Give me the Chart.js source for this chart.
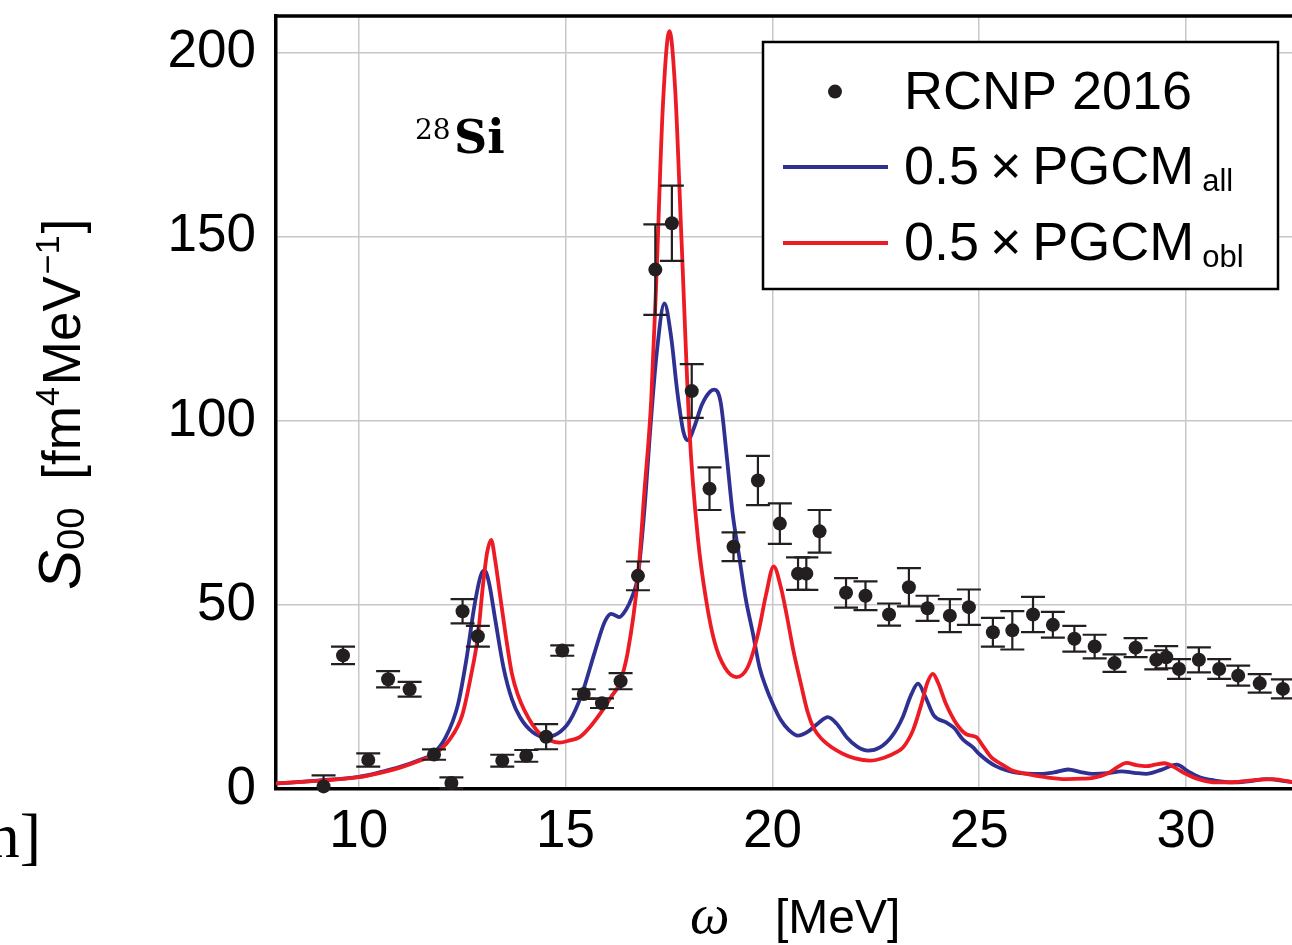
<!DOCTYPE html>
<html><head><meta charset="utf-8">
<script src="https://cdn.jsdelivr.net/npm/chart.js@4.4.1/dist/chart.umd.min.js"></script>
<style>html,body{margin:0;padding:0;background:#fff;overflow:hidden;width:1292px;height:945px}canvas{display:block}</style>
</head><body><canvas id="c" width="1300" height="945"></canvas>
<script>
// ---- data ----
const rcnpX = [9.15,9.62,10.23,10.71,11.23,11.82,12.24,12.51,12.88,13.47,14.05,14.53,14.92,15.44,15.88,16.33,16.75,17.17,17.57,18.05,18.48,19.06,19.65,20.18,20.62,20.82,21.14,21.78,22.25,22.82,23.30,23.75,24.29,24.75,25.33,25.80,26.30,26.78,27.30,27.79,28.27,28.78,29.28,29.52,29.83,30.31,30.80,31.26,31.78,32.34];
const rcnpY = [0.7,36.3,7.9,29.8,27.1,9.35,1.65,48.3,41.5,7.7,9.0,14.2,37.6,25.8,23.3,29.3,57.9,141.1,153.7,108.1,81.6,65.8,83.8,72.1,58.5,58.5,70.0,53.3,52.5,47.4,54.8,49.1,47.1,49.4,42.6,43.1,47.4,44.6,40.8,38.7,34.2,38.4,35.1,35.8,32.6,35.1,32.6,30.8,28.7,27.2];
const rcnpErr = [3.0,2.4,1.8,2.2,2.0,1.4,1.5,3.3,2.8,1.6,1.6,3.4,1.4,1.3,1.3,2.2,3.9,12.3,10.2,7.3,5.8,3.9,6.7,5.5,4.4,4.4,5.8,4.0,3.9,3.0,5.2,3.4,4.5,4.8,3.9,5.2,4.8,3.5,3.5,3.2,2.4,2.6,2.6,3.0,2.7,3.4,2.7,2.7,2.5,2.6];

const allX = [8.0,9.0,10.0,10.5,11.0,11.5,11.79,12.1,12.4,12.6,12.8,12.95,13.04,13.15,13.3,13.5,13.7,13.9,14.2,14.53,14.8,15.1,15.4,15.7,15.95,16.1,16.3,16.45,16.6,16.75,16.9,17.05,17.2,17.39,17.55,17.7,17.85,17.96,18.1,18.3,18.5,18.6,18.75,18.9,19.04,19.2,19.35,19.53,19.69,19.85,20.01,20.2,20.4,20.62,20.85,21.1,21.34,21.55,21.8,22.05,22.31,22.6,22.9,23.15,23.35,23.52,23.7,23.9,24.2,24.4,24.6,24.85,25.0,25.4,25.98,26.46,26.8,27.15,27.45,27.75,28.1,28.44,28.75,29.04,29.4,29.77,30.05,30.33,30.7,31.13,31.5,31.94,32.3,32.6];
const allY = [1.5,2.3,3.3,4.5,6.0,8.0,9.5,14,23,35,50,58,59.4,56,46,33,24.5,19.5,15.5,14.1,15,18.5,26,37,45.5,47.6,46.7,48.5,52,58,75,98,118,131.9,123,108,97,94.7,98,104.5,108,108.5,105,90,74.8,63,52,42.2,33,27.5,23.1,18.8,16,14.5,15.5,17.8,19.5,17.8,14,11.5,10.4,11.3,14.5,19.5,25.5,28.6,25,20,18.1,16.5,13.5,11.3,9.5,6.2,4.3,4.1,4.5,5.3,4.6,4.1,4.3,4.8,4.4,4.1,5.2,6.6,4.8,3.2,2.3,1.8,2.1,2.7,2.3,1.8];

const oblX = [8.0,9.0,10.0,10.5,11.0,11.5,11.82,12.2,12.5,12.7,12.88,13.0,13.1,13.2,13.3,13.4,13.55,13.7,13.85,14.0,14.2,14.4,14.6,14.85,15.1,15.34,15.6,15.9,16.1,16.3,16.5,16.75,16.9,17.07,17.2,17.35,17.51,17.65,17.8,18.0,18.2,18.4,18.6,18.85,19.13,19.4,19.65,19.85,20.03,20.2,20.35,20.5,20.7,20.85,21.0,21.2,21.45,21.7,22.0,22.35,22.7,23.0,23.16,23.4,23.6,23.75,23.88,24.0,24.2,24.45,24.7,24.93,25.1,25.3,25.5,25.8,26.14,26.6,27.1,27.5,27.75,28.1,28.35,28.56,28.8,29.04,29.25,29.48,29.7,29.93,30.3,30.74,31.2,31.7,32.1,32.6];
const oblY = [1.5,2.2,3.2,4.3,5.8,7.8,9.4,13.5,20,30,41.5,55,64,67.7,62,54,42,31.5,25.5,21.5,17.5,14.8,13.3,12.6,13.2,14.1,17,21.5,25,28.6,37,57.6,80,105.6,140,185,205.9,190,150,96.5,68,51.2,40,33,30.4,33,42,53,60.5,55,47,38,28,21,16.5,13.5,11.2,9.6,8.3,7.7,8.5,10,11.3,16,23,29,31.3,29,23,17.7,14.8,14.1,11.5,8.5,7.0,5,4.1,3.2,2.7,2.8,3.0,4.2,6,7.1,6.5,6.2,6.6,7.0,6,4.5,2.7,1.8,1.9,2.5,2.7,1.8];

const xTicks = [10,15,20,25,30];
const yTicks = [0,50,100,150,200];
const legendNames = ['RCNP 2016','0.5\u2009\u00D7\u2009PGCM','0.5\u2009\u00D7\u2009PGCM'];
const legendSubs = ['','all','obl'];
const nucleusMass = '28';
const nucleusSym = 'Si';

const BLUE = '#2e3192', RED = '#ed1c24', DOT = '#231f20';
const SANS = "'Liberation Sans', Arial, sans-serif";

const toXY = (xs, ys) => xs.map((v,i)=>({x:v, y:ys[i]}));

const errorBars = {
  id:'errorBars',
  beforeDatasetDraw(chart, args){
    if (args.index !== 0) return;
    const {ctx, chartArea:a, scales:{x, y}} = chart;
    ctx.save();
    ctx.beginPath(); ctx.rect(a.left, a.top, a.width, a.height + 4); ctx.clip();
    ctx.strokeStyle = DOT; ctx.lineWidth = 2.2;
    rcnpX.forEach((xv,i)=>{
      const px = x.getPixelForValue(xv);
      const y1 = y.getPixelForValue(rcnpY[i]-rcnpErr[i]);
      const y2 = y.getPixelForValue(rcnpY[i]+rcnpErr[i]);
      ctx.beginPath();
      ctx.moveTo(px,y1); ctx.lineTo(px,y2);
      ctx.moveTo(px-12,y1); ctx.lineTo(px+12,y1);
      ctx.moveTo(px-12,y2); ctx.lineTo(px+12,y2);
      ctx.stroke();
    });
    ctx.restore();
  }
};

const decorations = {
  id:'decorations',
  afterDraw(chart){
    const {ctx, chartArea:a} = chart;
    ctx.save();
    // top frame
    ctx.strokeStyle = '#000'; ctx.lineWidth = 3.5;
    ctx.beginPath(); ctx.moveTo(a.left-1.75, a.top); ctx.lineTo(a.right+2, a.top); ctx.stroke();

    // legend
    const L = 763, T = 42, W = 515, H = 247;
    ctx.fillStyle = '#fff'; ctx.fillRect(L, T, W, H);
    ctx.strokeStyle = '#000'; ctx.lineWidth = 2.5; ctx.strokeRect(L, T, W, H);
    const rowY = [91.6, 167, 243];
    ctx.textBaseline = 'alphabetic'; ctx.textAlign = 'left';
    legendNames.forEach((name, i)=>{
      const cy = rowY[i];
      if (i === 0) {
        ctx.fillStyle = DOT; ctx.beginPath(); ctx.arc(835, cy, 7, 0, Math.PI*2); ctx.fill();
      } else {
        ctx.strokeStyle = i === 1 ? BLUE : RED; ctx.lineWidth = 3.8;
        ctx.beginPath(); ctx.moveTo(783, cy); ctx.lineTo(888, cy); ctx.stroke();
      }
      ctx.fillStyle = '#000';
      ctx.font = `54px ${SANS}`;
      const base = cy + 17;
      ctx.fillText(name, 904, base);
      const w = ctx.measureText(name).width;
      if (legendSubs[i]) {
        ctx.font = `31px ${SANS}`;
        ctx.fillText(legendSubs[i], 904 + w + 8, base + 7);
      }
    });

    // nucleus label
    ctx.fillStyle = '#000';
    ctx.font = `28px 'DejaVu Serif', serif`;
    ctx.fillText(nucleusMass, 415, 139);
    ctx.font = `bold 46px 'DejaVu Serif', serif`;
    ctx.fillText(nucleusSym, 454, 153);

    // y axis title (rotated)
    ctx.save();
    ctx.translate(80, 590);
    ctx.rotate(-Math.PI/2);
    let cx = 0;
    ctx.font = `italic 60px ${SANS}`;
    ctx.fillText('S', cx, 0); cx += ctx.measureText('S').width;
    ctx.font = `38px ${SANS}`;
    ctx.fillText('00', cx, 4); cx += ctx.measureText('00').width + 28;
    ctx.font = `53px ${SANS}`;
    ctx.fillText('[fm', cx, 0); cx += ctx.measureText('[fm').width;
    ctx.font = `34px ${SANS}`;
    ctx.fillText('4', cx, -21); cx += ctx.measureText('4').width + 2;
    ctx.font = `53px ${SANS}`;
    ctx.fillText('MeV', cx, 0); cx += ctx.measureText('MeV').width;
    ctx.font = `34px ${SANS}`;
    ctx.fillText('\u22121', cx + 2, -21); cx += ctx.measureText('\u22121').width + 4;
    ctx.font = `53px ${SANS}`;
    ctx.fillText(']', cx, 0);
    ctx.restore();

    // x axis title
    ctx.font = `italic 56px 'Liberation Serif', serif`;
    ctx.fillText('\u03C9', 690, 933);
    ctx.font = `48px ${SANS}`;
    ctx.fillText('[MeV]', 775, 933);

    // neighbouring panel label fragment
    ctx.font = `64px 'Liberation Serif', serif`;
    ctx.textAlign = 'right';
    ctx.fillText('n]', 41, 857);
    ctx.restore();
  }
};

new Chart(document.getElementById('c'), {
  type: 'scatter',
  data: {
    datasets: [
      { label: 'RCNP 2016', data: toXY(rcnpX, rcnpY), showLine: false, order: 0,
        pointRadius: 7, pointBackgroundColor: DOT, pointBorderWidth: 0, clip: false },
      { label: 'PGCM all', data: toXY(allX, allY), showLine: true, order: 2,
        borderColor: BLUE, borderWidth: 3.8, pointRadius: 0, cubicInterpolationMode: 'monotone' },
      { label: 'PGCM obl', data: toXY(oblX, oblY), showLine: true, order: 1,
        borderColor: RED, borderWidth: 3.8, pointRadius: 0, cubicInterpolationMode: 'monotone' }
    ]
  },
  options: {
    responsive: false, animation: false, devicePixelRatio: 1,
    layout: { padding: { top: 16, left: 0, right: 0, bottom: 0 } },
    plugins: { legend: { display: false }, tooltip: { enabled: false } },
    scales: {
      x: { type: 'linear', min: 8, max: 32.585,
        afterBuildTicks: s => { s.ticks = xTicks.map(v => ({value: v})); },
        afterFit: s => { s.height = 156; s.paddingLeft = 0; s.paddingRight = 0; },
        grid: { color: '#c8c8c8', lineWidth: 1.5, drawTicks: false },
        border: { display: true, color: '#000', width: 3.5 },
        ticks: { padding: 12, color: '#000', maxRotation: 0, autoSkip: false, font: { family: SANS, size: 53 } } },
      y: { type: 'linear', min: 0, max: 210,
        afterBuildTicks: s => { s.ticks = yTicks.map(v => ({value: v})); },
        afterFit: s => { s.width = 276; s.paddingTop = 0; s.paddingBottom = 0; },
        grid: { color: '#c8c8c8', lineWidth: 1.5, drawTicks: false },
        border: { display: true, color: '#000', width: 3.5 },
        ticks: { padding: 20, color: '#000', font: { family: SANS, size: 53 } } }
    }
  },
  plugins: [errorBars, decorations]
});
</script>
</body></html>
